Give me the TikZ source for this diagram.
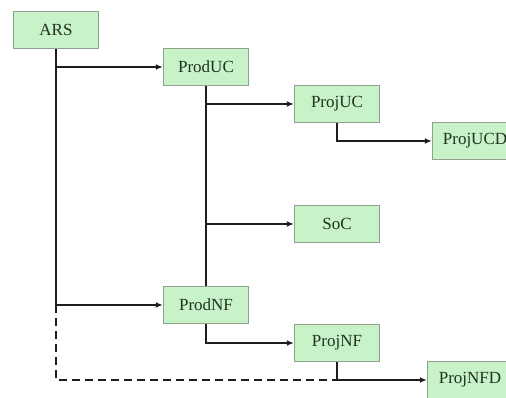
\documentclass[tikz,border=0pt]{standalone}
\usepackage{fontspec}
\setmainfont{Liberation Serif}
\newfontfamily\labelfont{Liberation Serif}
\usetikzlibrary{arrows.meta}
\definecolor{boxfill}{HTML}{C8F2C8}
\definecolor{boxline}{HTML}{8FA08F}
\definecolor{linkcol}{HTML}{1E1E1E}
\definecolor{labelcol}{HTML}{1F331F}
\begin{document}
\begin{tikzpicture}[x=1pt,y=-1pt,
  unit/.style={draw=boxline, fill=boxfill, line width=1.4pt,
    minimum width=85pt, minimum height=37pt, inner sep=0pt,
    font=\labelfont\fontsize{17}{19}\selectfont, text=labelcol},
  link/.style={draw=linkcol, line width=2pt},
  arrowlink/.style={link, -{Latex[length=7pt,width=6pt]}},
  optlink/.style={link, dash pattern=on 8pt off 5pt}]
\useasboundingbox (0,0) rectangle (506,398);
\begin{scope}
\clip (0,0) rectangle (506,398);
\node[unit] (ars)     at (56,30)     {ARS};
\node[unit] (produc)  at (206,67)    {ProdUC};
\node[unit] (projuc)  at (337,104)   {ProjUC};
\node[unit] (projucd) at (475,141)   {ProjUCD};
\node[unit] (soc)     at (337,224)   {SoC};
\node[unit] (prodnf)  at (206,305)   {ProdNF};
\node[unit] (projnf)  at (337,343)   {ProjNF};
\node[unit] (projnfd) at (470,380)   {ProjNFD};

% ARS trunk
\draw[arrowlink] (ars.south) |- (prodnf.west);
\draw[arrowlink] (ars.south |- produc.west) -- (produc.west);
% optional path to ProjNFD
\draw[optlink] (ars.south |- prodnf.west) -- (ars.south |- projnfd.west) -- (projnf.south |- projnfd.west);

% ProdUC branches
\draw[link] (produc.south) -- (prodnf.north);
\draw[arrowlink] (produc.south |- projuc.west) -- (projuc.west);
\draw[arrowlink] (produc.south |- soc.west) -- (soc.west);

% ProjUC, ProdNF, ProjNF
\draw[arrowlink] (projuc.south) |- (projucd.west);
\draw[arrowlink] (prodnf.south) |- (projnf.west);
\draw[arrowlink] (projnf.south) |- (projnfd.west);
\end{scope}
\end{tikzpicture}
\end{document}
